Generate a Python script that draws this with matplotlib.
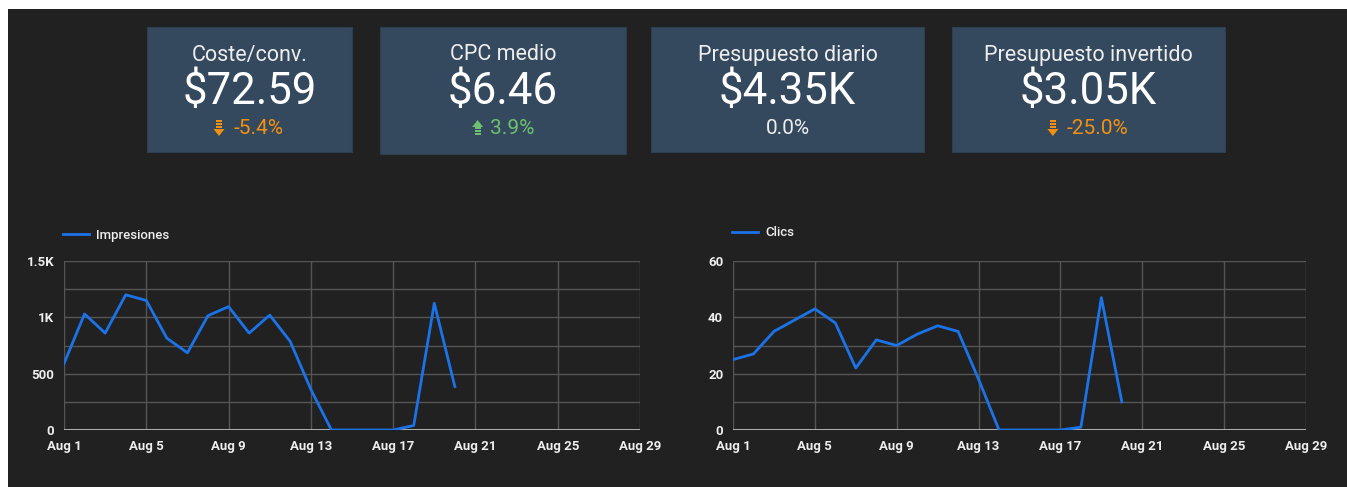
import matplotlib
matplotlib.use('Agg')
import matplotlib.pyplot as plt
from matplotlib.patches import Rectangle, Polygon

plt.rcParams['font.family'] = ['Roboto', 'DejaVu Sans']

# datos
dias = list(range(1, 21))
impresiones = [590, 1030, 860, 1200, 1150, 815, 685, 1015, 1095, 860, 1020, 785,
               360, 0, 0, 0, 0, 40, 1125, 385]
clics = [25, 27, 35, 39, 43, 38, 22, 32, 30, 34, 37, 35, 18, 0, 0, 0, 0, 1, 47, 10]
dias_ticks = [1, 5, 9, 13, 17, 21, 25, 29]
etiquetas_x = ['Aug %d' % d for d in dias_ticks]

tarjetas = ['Coste/conv.', 'CPC medio', 'Presupuesto diario', 'Presupuesto invertido']
valores = ['$72.59', '$6.46', '$4.35K', '$3.05K']
cambios = ['-5.4%', '3.9%', '0.0%', '-25.0%']
direccion = ['down', 'up', 'none', 'down']

W, H = 1347, 487
BG = '#212121'
CARD = '#34495e'
BLUE = '#1a73e8'
ORANGE = '#f29111'
GREEN = '#6cc070'
TXT = '#eeeeee'


def fx(x):
    return x / W


def fy(y):
    return 1 - y / H


fig = plt.figure(figsize=(W / 100, H / 100), dpi=100, facecolor='white')
fig.patches.append(Rectangle((fx(8), 0), fx(W - 8), fy(9), transform=fig.transFigure,
                             facecolor=BG, edgecolor='none', zorder=-10))

# tarjetas de resumen
cajas = [(147, 352, 152), (380, 626, 154), (651, 924, 152), (952, 1225, 152)]
for i, (x0, x1, y1) in enumerate(cajas):
    y0 = 27
    fig.patches.append(Rectangle((fx(x0), fy(y1)), fx(x1 - x0), (y1 - y0) / H,
                                 transform=fig.transFigure, facecolor=CARD,
                                 edgecolor='#2c3e50', lw=0.8, zorder=1))
    cx = (x0 + x1) / 2
    fig.text(fx(cx), fy(55), tarjetas[i], color=TXT, fontsize=15.5,
             ha='center', va='center', zorder=2)
    fig.text(fx(cx), fy(92), valores[i], color='white', fontsize=31.5,
             ha='center', va='center', zorder=2)
    if direccion[i] == 'none':
        fig.text(fx(cx), fy(129), cambios[i], color=TXT, fontsize=15,
                 ha='center', va='center', zorder=2)
        continue
    col = ORANGE if direccion[i] == 'down' else GREEN
    fig.text(fx(cx + 9), fy(129), cambios[i], color=col, fontsize=15,
             ha='center', va='center', zorder=2)
    # ancho aproximado del texto para colocar la flecha
    ancho = len(cambios[i]) * 10.2
    ax_ = cx + 9 - ancho / 2 - 14
    if direccion[i] == 'down':
        for k in range(3):
            fig.patches.append(Rectangle((fx(ax_ - 3), fy(120 + k * 3 + 2)), fx(6), 2 / H,
                                         transform=fig.transFigure, facecolor=col,
                                         edgecolor='none', zorder=2))
        fig.patches.append(Polygon([(fx(ax_ - 5.5), fy(129)), (fx(ax_ + 5.5), fy(129)),
                                    (fx(ax_), fy(136))], closed=True,
                                   transform=fig.transFigure, facecolor=col,
                                   edgecolor='none', zorder=2))
    else:
        fig.patches.append(Polygon([(fx(ax_ - 5.5), fy(127)), (fx(ax_ + 5.5), fy(127)),
                                    (fx(ax_), fy(120))], closed=True,
                                   transform=fig.transFigure, facecolor=col,
                                   edgecolor='none', zorder=2))
        for k in range(3):
            fig.patches.append(Rectangle((fx(ax_ - 3), fy(127 + k * 3 + 2)), fx(6), 2 / H,
                                         transform=fig.transFigure, facecolor=col,
                                         edgecolor='none', zorder=2))


# graficos de lineas
def dibujar(left, right, y, ymax, ystep, yticks, ylabels, nombre, leg_x, leg_y):
    ax = fig.add_axes([fx(left), fy(430), fx(right - left), (430 - 261) / H])
    ax.set_facecolor(BG)
    ax.plot(dias, y, color=BLUE, lw=2, label=nombre, zorder=3)
    ax.set_xlim(1, 29)
    ax.set_ylim(0, ymax)
    ax.set_xticks(dias_ticks)
    ax.set_xticklabels(etiquetas_x)
    ax.set_yticks([v * ystep for v in range(int(ymax / ystep) + 1)], minor=True)
    ax.set_yticks(yticks)
    ax.set_yticklabels(ylabels)
    ax.grid(True, which='both', color='#555555', lw=1)
    ax.axhline(0, color='#c8c8c8', lw=1.2, zorder=2)
    for s in ax.spines.values():
        s.set_visible(False)
    ax.tick_params(which='both', length=0, colors=TXT, labelsize=9.5, pad=7)
    for lab in ax.get_xticklabels() + ax.get_yticklabels():
        lab.set_fontweight('bold')
    leg = ax.legend(loc='center left', bbox_to_anchor=(fx(leg_x), fy(leg_y)),
                    bbox_transform=fig.transFigure, frameon=False, fontsize=9.5,
                    handlelength=2.0, handletextpad=0.5, borderpad=0, borderaxespad=0)
    for tx in leg.get_texts():
        tx.set_color(TXT)
        tx.set_fontweight('medium')
    return ax


dibujar(64, 640, impresiones, 1500, 250, [0, 500, 1000, 1500],
        ['0', '500', '1K', '1.5K'], 'Impresiones', 63, 235)
dibujar(733, 1306, clics, 60, 10, [0, 20, 40, 60],
        ['0', '20', '40', '60'], 'Clics', 732, 233)

fig.savefig('out.png', dpi=100, facecolor=fig.get_facecolor())
